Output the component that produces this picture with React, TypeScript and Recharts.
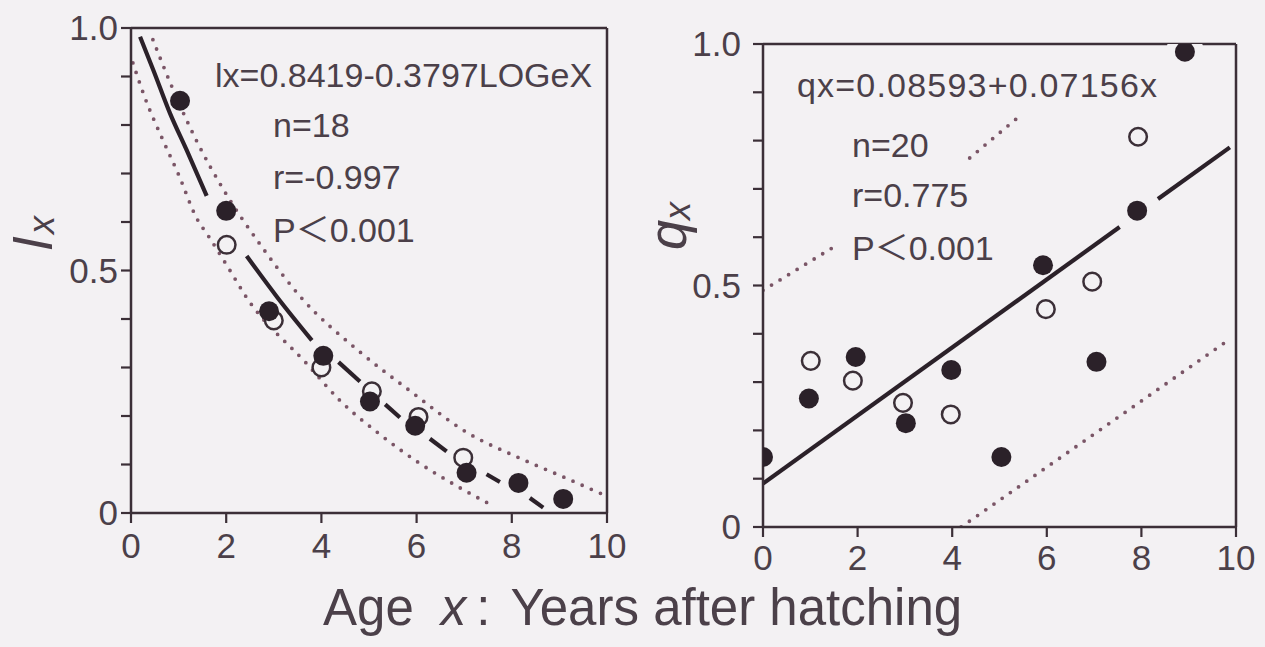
import React from 'react';
import { ComposedChart, Line, Scatter, XAxis, YAxis } from 'recharts';

// axis ticks
const ageTicks = [0, 2, 4, 6, 8, 10];
const topTicks = [2, 4, 6, 8];
const rateTicks = [0, 0.1, 0.2, 0.3, 0.4, 0.5, 0.6, 0.7, 0.8, 0.9, 1.0];

// lx panel: [age, lx]
const lxFilled = [[1.03, 0.85], [2.0, 0.623], [2.9, 0.416], [4.04, 0.324], [5.02, 0.23], [5.97, 0.18], [7.05, 0.083], [8.14, 0.062], [9.08, 0.029]];
const lxOpen = [[2.01, 0.553], [3.0, 0.397], [4.0, 0.3], [5.06, 0.251], [6.04, 0.198], [6.98, 0.114]];
const lxFitA = [[0.19, 0.982], [0.47, 0.913], [0.82, 0.824], [1.17, 0.748], [1.59, 0.654]];
const lxFitB = [[2.43, 0.53], [3.08, 0.444], [3.8, 0.356]];
const lxFitDashes = [
    [[4.36, 0.311], [4.81, 0.271]],
    [[5.34, 0.224], [5.65, 0.197]],
    [[6.28, 0.153], [6.63, 0.127]],
    [[7.47, 0.08], [7.75, 0.064]],
    [[8.38, 0.031], [8.66, 0.011]],
];
const lxUpper = [[0.46, 0.976], [0.82, 0.888], [1.41, 0.761], [1.93, 0.669], [2.77, 0.546], [3.55, 0.447], [4.81, 0.332], [5.86, 0.252], [7.06, 0.166], [8.17, 0.113], [9.16, 0.071], [9.92, 0.038]];
const lxLower = [[0.04, 0.928], [0.29, 0.857], [0.67, 0.769], [0.99, 0.7], [1.39, 0.606], [1.62, 0.572], [2.08, 0.5], [2.39, 0.45], [3.7, 0.307], [4.39, 0.232], [5.23, 0.162], [6.01, 0.106], [6.91, 0.052], [7.58, 0.016]];

// qx panel: [age, qx]
const qxFilled = [[0, 0.145], [0.97, 0.266], [1.96, 0.352], [3.02, 0.215], [3.98, 0.325], [5.04, 0.145], [5.92, 0.542], [7.05, 0.342], [7.91, 0.655], [8.92, 0.984]];
const qxOpen = [[1.01, 0.344], [1.9, 0.303], [2.96, 0.257], [3.97, 0.233], [5.98, 0.451], [6.96, 0.508], [7.93, 0.808]];
const qxFitA = [[0, 0.09], [7.54, 0.621]];
const qxFitB = [[8.35, 0.679], [9.87, 0.786]];
const qxUpperA = [[0, 0.49], [1.45, 0.577]];
const qxUpperB = [[4.37, 0.764], [5.5, 0.857]];
const qxLower = [[4.19, 0], [9.87, 0.389]];

const BG = '#f3f1f3';
const INK = '#3b2f37';
const TEXT = '#4b4049';
const DOT = '#2b2129';
const DOTTED = '#7a5566';
const FONT = '"Liberation Sans", Arial, "Noto Sans CJK JP", sans-serif';

const pts = (arr: number[][]) => arr.map(([x, y]) => ({ x, y }));

const rateLabel = (v: number) => (v === 0 ? '0' : v === 0.5 ? '0.5' : v === 1 ? '1.0' : '');

const tickLine = { stroke: INK, strokeWidth: 2.2 };

const FilledDot = (props: any) => {
    const { cx, cy, payload } = props;
    return (
        <g>
            {payload.y > 0.95 && <circle cx={cx} cy={cy} r={19} fill={BG} />}
            <circle cx={cx} cy={cy} r={10} fill={DOT} />
        </g>
    );
};

const OpenDot = (props: any) => {
    const { cx, cy } = props;
    return <circle cx={cx} cy={cy} r={8.8} fill={BG} stroke={INK} strokeWidth={2.5} />;
};

interface PanelProps {
    width: number;
    margin: { top: number; right: number; left: number; bottom: number };
    xTickMargin: number;
    yTickMargin: number;
    filled: number[][];
    open: number[][];
    solid: number[][][];
    dotted: number[][][];
}

const Panel = ({ width, margin, xTickMargin, yTickMargin, filled, open, solid, dotted }: PanelProps) => (
    <ComposedChart width={width} height={600} margin={margin}>
        <XAxis
            dataKey="x"
            type="number"
            domain={[0, 10]}
            ticks={ageTicks}
            interval={0}
            height={40}
            tickSize={10}
            tickMargin={xTickMargin}
            tickLine={tickLine}
            axisLine={{ stroke: INK, strokeWidth: 2.5 }}
            tick={{ fill: TEXT, fontSize: 35, fontFamily: FONT }}
            allowDataOverflow
        />
        <XAxis
            xAxisId="top"
            orientation="top"
            dataKey="x"
            type="number"
            domain={[0, 10]}
            ticks={topTicks}
            interval={0}
            height={1}
            tickSize={10}
            tickLine={tickLine}
            tickFormatter={() => ''}
            axisLine={{ stroke: INK, strokeWidth: 2.5 }}
        />
        <YAxis
            type="number"
            domain={[0, 1]}
            ticks={rateTicks}
            interval={0}
            width={70}
            tickSize={10}
            tickMargin={yTickMargin}
            tickLine={tickLine}
            tickFormatter={rateLabel}
            axisLine={{ stroke: INK, strokeWidth: 2.5 }}
            tick={{ fill: TEXT, fontSize: 35, fontFamily: FONT }}
            allowDataOverflow
        />
        <YAxis
            yAxisId="right"
            orientation="right"
            type="number"
            domain={[0, 1]}
            ticks={rateTicks}
            interval={0}
            width={1}
            tickSize={10}
            tickLine={tickLine}
            tickFormatter={() => ''}
            axisLine={{ stroke: INK, strokeWidth: 2.5 }}
        />
        {dotted.map((seg, i) => (
            <Line
                key={`dot-${i}`}
                data={pts(seg)}
                dataKey="y"
                type="monotone"
                dot={false}
                stroke={DOTTED}
                strokeWidth={3.8}
                strokeDasharray="0 10"
                strokeLinecap="round"
                isAnimationActive={false}
            />
        ))}
        {solid.map((seg, i) => (
            <Line
                key={`fit-${i}`}
                data={pts(seg)}
                dataKey="y"
                type="monotone"
                dot={false}
                stroke={DOT}
                strokeWidth={4.2}
                isAnimationActive={false}
            />
        ))}
        <Scatter data={pts(open)} dataKey="y" shape={OpenDot} isAnimationActive={false} />
        <Scatter data={pts(filled)} dataKey="y" shape={FilledDot} isAnimationActive={false} />
    </ComposedChart>
);

const textStyle = { fill: TEXT, fontFamily: FONT, fontSize: 34 };

export default function App() {
    return (
        <div style={{ position: 'absolute', left: 0, top: 0, width: 1265, height: 647, background: BG, overflow: 'hidden' }}>
            <div style={{ position: 'absolute', left: 0, top: 0 }}>
                <Panel
                    width={640}
                    margin={{ top: 27, right: 32, left: 61, bottom: 47 }}
                    xTickMargin={10}
                    yTickMargin={3}
                    filled={lxFilled}
                    open={lxOpen}
                    solid={[lxFitA, lxFitB, ...lxFitDashes]}
                    dotted={[lxUpper, lxLower]}
                />
            </div>
            <div style={{ position: 'absolute', left: 640, top: 0 }}>
                <Panel
                    width={625}
                    margin={{ top: 43, right: 28, left: 53, bottom: 33 }}
                    xTickMargin={8}
                    yTickMargin={12}
                    filled={qxFilled}
                    open={qxOpen}
                    solid={[qxFitA, qxFitB]}
                    dotted={[qxUpperA, qxUpperB, qxLower]}
                />
            </div>
            <svg width={1265} height={647} style={{ position: 'absolute', left: 0, top: 0, pointerEvents: 'none' }}>
                <text x={215} y={87} {...textStyle}>lx=0.8419-0.3797LOGeX</text>
                <text x={273} y={137} {...textStyle}>n=18</text>
                <text x={273} y={189} {...textStyle}>r=-0.997</text>
                <text x={273} y={242} {...textStyle}>P＜0.001</text>

                <text x={797} y={97} {...textStyle} letterSpacing={1.2}>qx=0.08593+0.07156x</text>
                <text x={852} y={157} {...textStyle}>n=20</text>
                <text x={852} y={207} {...textStyle}>r=0.775</text>
                <text x={852} y={260} {...textStyle}>P＜0.001</text>

                <text transform="translate(52,250) rotate(-90)" fill={TEXT} fontFamily={FONT} fontSize={54}>
                    <tspan fontStyle="italic">l</tspan>
                    <tspan fontStyle="italic" fontSize={36} dx={4} dy={2}>x</tspan>
                </text>
                <text transform="translate(686,250) rotate(-90)" fill={TEXT} fontFamily={FONT} fontSize={54}>
                    <tspan fontStyle="italic">q</tspan>
                    <tspan fontStyle="italic" fontSize={36} dy={4}>x</tspan>
                </text>

                <text x={323} y={625} fill={TEXT} fontFamily={FONT} fontSize={51}>
                    <tspan>Age</tspan>
                    <tspan dx={27} fontStyle="italic">x</tspan>
                    <tspan dx={10}>:</tspan>
                    <tspan dx={20}>Years after hatching</tspan>
                </text>
            </svg>
        </div>
    );
}
